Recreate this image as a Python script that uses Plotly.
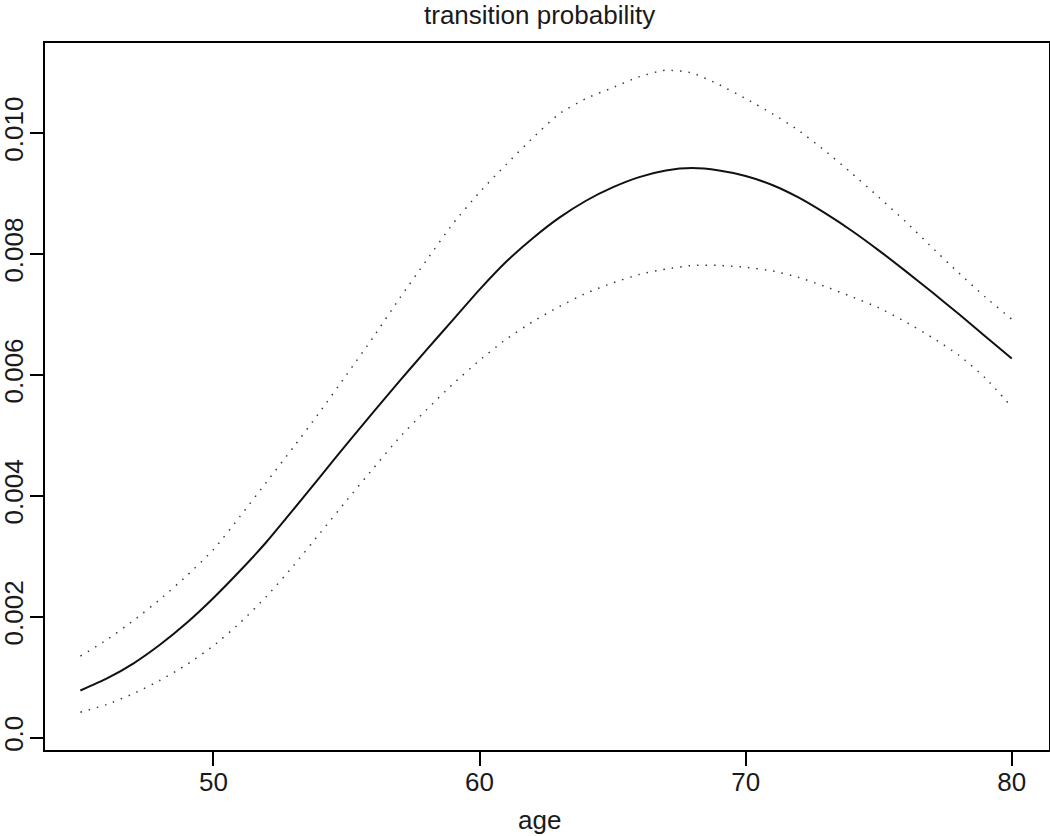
import plotly.graph_objects as go

ages = list(range(45, 81))

estimate = [0.00078, 0.00098, 0.00123, 0.00154, 0.00190, 0.00231, 0.00276, 0.00324,
            0.00377, 0.00431, 0.00485, 0.00538, 0.00590, 0.00641, 0.00691, 0.00741,
            0.00787, 0.00826, 0.00860, 0.00888, 0.00910, 0.00927, 0.00938, 0.00942,
            0.00938, 0.00929, 0.00914, 0.00893, 0.00867, 0.00838, 0.00806, 0.00772,
            0.00737, 0.00701, 0.00664, 0.00627]

upper = [0.00135, 0.00162, 0.00194, 0.00229, 0.00268, 0.00311, 0.00366, 0.00423,
         0.00480, 0.00539, 0.00600, 0.00662, 0.00727, 0.00789, 0.00850, 0.00902,
         0.00948, 0.00992, 0.01032, 0.01057, 0.01075, 0.01093, 0.01104, 0.01099,
         0.01080, 0.01057, 0.01032, 0.01004, 0.00970, 0.00933, 0.00894, 0.00854,
         0.00811, 0.00769, 0.00729, 0.00692]

lower = [0.00042, 0.00055, 0.00073, 0.00095, 0.00121, 0.00152, 0.00190, 0.00234,
         0.00284, 0.00338, 0.00392, 0.00445, 0.00497, 0.00542, 0.00585, 0.00624,
         0.00659, 0.00688, 0.00713, 0.00735, 0.00752, 0.00766, 0.00775, 0.00781,
         0.00781, 0.00778, 0.00772, 0.00761, 0.00746, 0.00729, 0.00711, 0.00688,
         0.00662, 0.00633, 0.00595, 0.00547]

x_ticks = [50, 60, 70, 80]
y_ticks = [0.0, 0.002, 0.004, 0.006, 0.008, 0.010]
y_ticktext = ["0.0", "0.002", "0.004", "0.006", "0.008", "0.010"]

FONT = "Liberation Sans, Arial, Helvetica, sans-serif"
TXT = "#1a1a1a"

fig = go.Figure()
for ys in (upper, lower):
    fig.add_trace(go.Scatter(x=ages, y=ys, mode="lines",
                             line=dict(color="#3a3a3a", width=1.5, dash="1.5px,7px",
                                       shape="spline", smoothing=0.6),
                             showlegend=False, hoverinfo="skip"))
fig.add_trace(go.Scatter(x=ages, y=estimate, mode="lines",
                         line=dict(color="#111111", width=2, shape="spline", smoothing=0.6),
                         showlegend=False))

fig.update_layout(
    width=1050, height=836,
    margin=dict(l=45, r=1, t=43, b=86, autoexpand=False),
    paper_bgcolor="white", plot_bgcolor="white",
    font=dict(family=FONT, size=26, color=TXT),
    annotations=[
        dict(text="transition probability", xref="paper", yref="paper",
             x=0.493, y=1.0396, xanchor="center", yanchor="middle",
             showarrow=False, font=dict(family=FONT, size=26, color=TXT)),
        dict(text="age", xref="paper", yref="paper",
             x=0.493, y=-0.099, xanchor="center", yanchor="middle",
             showarrow=False, font=dict(family=FONT, size=26, color=TXT)),
    ],
)
fig.update_xaxes(range=[43.67, 81.4], tickvals=x_ticks, automargin=False,
                 showgrid=False, zeroline=False,
                 showline=True, linecolor="black", linewidth=2, mirror=True,
                 ticks="outside", ticklen=14, tickwidth=2, tickcolor="black",
                 ticklabelstandoff=-6,
                 tickfont=dict(family=FONT, size=26, color=TXT))
fig.update_yaxes(range=[-0.000204, 0.011489], tickvals=y_ticks, ticktext=y_ticktext,
                 tickangle=-90, automargin=False,
                 showgrid=False, zeroline=False,
                 showline=True, linecolor="black", linewidth=2, mirror=True,
                 ticks="outside", ticklen=13, tickwidth=2, tickcolor="black",
                 ticklabelstandoff=-3,
                 tickfont=dict(family=FONT, size=26, color=TXT))

fig.write_html(
    "out.html",
    config={"displayModeBar": False},
    post_script="document.body.style.margin='0';document.body.style.overflow='hidden';",
)
